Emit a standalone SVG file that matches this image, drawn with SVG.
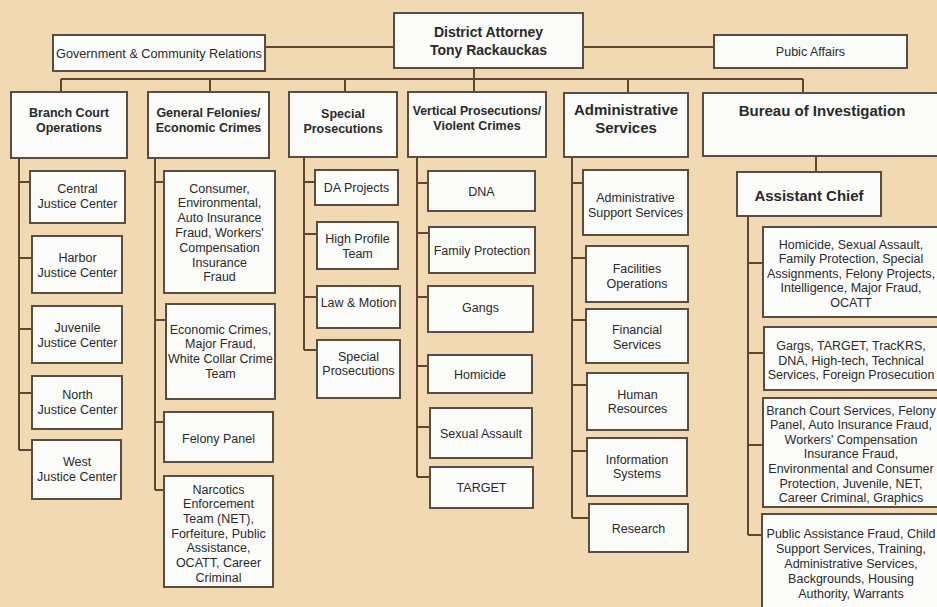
<svg xmlns="http://www.w3.org/2000/svg" width="937" height="607" viewBox="0 0 937 607">
<style>
.box{fill:#fbfbf9;stroke:#5a4c40;stroke-width:2}
.c{fill:none;stroke:#5e4630;stroke-width:2}
text{font-family:"Liberation Sans",Arial,sans-serif;fill:#2a2a2a;text-anchor:middle;font-size:12.5px}
.b{font-weight:bold}
.b15{font-weight:bold;font-size:15px}
.da{font-weight:bold;font-size:14px}
</style>
<rect width="937" height="607" fill="#f1d9b3"/>
<g id="connectors" class="c">
<path d="M265 47H394M583 47H714M474 68V92M61 79H803M61 79V92M210 79V92M345 79V92M628 79V93M803 79V93"/>
<path d="M19 158V450M19 182H30M19 258H32M19 329H32M19 393H32M19 450H32"/>
<path d="M155 158V490M155 182H164M155 320H166M155 422H164M155 490H164"/>
<path d="M304 157V350M304 182H315M304 234H317M304 297H317M304 350H317"/>
<path d="M417 157V477M417 183H428M417 233H429M417 297H428M417 366H428M417 427H430M417 477H430"/>
<path d="M572 157V518M572 183H583M572 258H586M572 320H586M572 385H587M572 451H587M572 518H589"/>
<path d="M816 156V172M748 216V535M748 263H763M748 353H764M748 445H763M748 535H762"/>
</g>
<g id="da"><rect class="box" x="394" y="13" width="189" height="55"/><text class="da" x="488.5" y="37">District Attorney</text><text class="da" x="488.5" y="55">Tony Rackauckas</text></g>
<g id="gov"><rect class="box" x="53" y="35" width="212" height="36"/><text x="159" y="57.5" style="font-size:12.7px">Government &amp; Community Relations</text></g>
<g id="pubic"><rect class="box" x="714" y="35" width="193" height="33"/><text x="810.5" y="56">Pubic Affairs</text></g>

<g id="branch"><rect class="box" x="11" y="92" width="116" height="66"/><text class="b" x="69" y="116.5">Branch Court</text><text class="b" x="69" y="131.5">Operations</text></g>
<g id="general"><rect class="box" x="148" y="92" width="121" height="66"/><text class="b" x="208.5" y="116.5">General Felonies/</text><text class="b" x="208.5" y="131.5">Economic Crimes</text></g>
<g id="special"><rect class="box" x="289" y="92" width="108" height="65"/><text class="b" x="343" y="117.5">Special</text><text class="b" x="343" y="132.5">Prosecutions</text></g>
<g id="vertical"><rect class="box" x="408" y="92" width="138" height="65"/><text class="b" x="477" y="114.5" style="font-size:12.3px">Vertical Prosecutions/</text><text class="b" x="477" y="129.5">Violent Crimes</text></g>
<g id="admin"><rect class="box" x="564" y="93" width="124" height="64"/><text class="b15" x="626" y="115">Administrative</text><text class="b15" x="626" y="133">Services</text></g>
<g id="bureau"><rect class="box" x="703" y="93" width="245" height="63"/><text class="b15" x="822" y="115.5">Bureau of Investigation</text></g>

<g id="central"><rect class="box" x="30" y="171" width="95" height="52"/><text x="77.5" y="192.5">Central</text><text x="77.5" y="207.5">Justice Center</text></g>
<g id="harbor"><rect class="box" x="32" y="236" width="90" height="57"/><text x="77.5" y="261.5">Harbor</text><text x="77.5" y="276.5">Justice Center</text></g>
<g id="juvenile"><rect class="box" x="32" y="306" width="90" height="57"/><text x="77.5" y="331.5">Juvenile</text><text x="77.5" y="346.5">Justice Center</text></g>
<g id="north"><rect class="box" x="32" y="376" width="90" height="53"/><text x="77.5" y="398.5">North</text><text x="77.5" y="413.5">Justice Center</text></g>
<g id="west"><rect class="box" x="32" y="440" width="89" height="59"/><text x="77" y="465.5">West</text><text x="77" y="480.5">Justice Center</text></g>

<g id="consumer"><rect class="box" x="164" y="171" width="111" height="122"/><text x="219.5" y="192.5">Consumer,</text><text x="219.5" y="207.3">Environmental,</text><text x="219.5" y="222.1">Auto Insurance</text><text x="219.5" y="236.9">Fraud, Workers'</text><text x="219.5" y="251.7">Compensation</text><text x="219.5" y="266.5">Insurance</text><text x="219.5" y="281.3">Fraud</text></g>
<g id="economic"><rect class="box" x="166" y="304" width="109" height="95"/><text x="220.5" y="333.5">Economic Crimes,</text><text x="220.5" y="348">Major Fraud,</text><text x="220.5" y="362.5">White Collar Crime</text><text x="220.5" y="377.5">Team</text></g>
<g id="felony"><rect class="box" x="164" y="412" width="109" height="50"/><text x="218.5" y="442.5">Felony Panel</text></g>
<g id="narcotics"><rect class="box" x="164" y="476" width="109" height="111"/><text x="218.5" y="493.5">Narcotics</text><text x="218.5" y="508.2">Enforcement</text><text x="218.5" y="522.9">Team (NET),</text><text x="218.5" y="537.6">Forfeiture, Public</text><text x="218.5" y="552.3">Assistance,</text><text x="218.5" y="567">OCATT, Career</text><text x="218.5" y="581.7">Criminal</text></g>

<g id="daprojects"><rect class="box" x="315" y="170" width="83" height="35"/><text x="356.5" y="191.5">DA Projects</text></g>
<g id="highprofile"><rect class="box" x="317" y="222" width="81" height="47"/><text x="357.5" y="242.5">High Profile</text><text x="357.5" y="257.5">Team</text></g>
<g id="lawmotion"><rect class="box" x="317" y="286" width="83" height="42"/><text x="358.5" y="306.5">Law &amp; Motion</text></g>
<g id="specialpros"><rect class="box" x="317" y="340" width="83" height="58"/><text x="358.5" y="360.5">Special</text><text x="358.5" y="374.5">Prosecutions</text></g>

<g id="dna"><rect class="box" x="428" y="171" width="107" height="40"/><text x="481.5" y="195.5">DNA</text></g>
<g id="family"><rect class="box" x="429" y="227" width="106" height="46"/><text x="482" y="254.5">Family Protection</text></g>
<g id="gangs"><rect class="box" x="428" y="286" width="105" height="46"/><text x="480.5" y="311.5">Gangs</text></g>
<g id="homicide"><rect class="box" x="428" y="355" width="104" height="38"/><text x="480" y="378.5">Homicide</text></g>
<g id="sexual"><rect class="box" x="430" y="408" width="102" height="50"/><text x="481" y="437.5">Sexual Assault</text></g>
<g id="target"><rect class="box" x="430" y="467" width="103" height="41"/><text x="481.5" y="491.5">TARGET</text></g>

<g id="adminsupport"><rect class="box" x="583" y="170" width="105" height="65"/><text x="635.5" y="201.5">Administrative</text><text x="635.5" y="216.5">Support Services</text></g>
<g id="facilities"><rect class="box" x="586" y="246" width="102" height="56"/><text x="637" y="272.5">Facilities</text><text x="637" y="287.5">Operations</text></g>
<g id="financial"><rect class="box" x="586" y="309" width="102" height="54"/><text x="637" y="333.5">Financial</text><text x="637" y="348.5">Services</text></g>
<g id="human"><rect class="box" x="587" y="373" width="101" height="57"/><text x="637.5" y="399">Human</text><text x="637.5" y="413">Resources</text></g>
<g id="information"><rect class="box" x="587" y="438" width="100" height="58"/><text x="637" y="463.5">Information</text><text x="637" y="477.5">Systems</text></g>
<g id="research"><rect class="box" x="589" y="504" width="99" height="48"/><text x="638.5" y="532.5">Research</text></g>

<g id="assistant"><rect class="box" x="737" y="172" width="144" height="44"/><text class="b15" x="809" y="201">Assistant Chief</text></g>
<g id="bi1"><rect class="box" x="763" y="227" width="185" height="90"/><text x="851" y="248.5">Homicide, Sexual Assault,</text><text x="851" y="263">Family Protection, Special</text><text x="851" y="277.5">Assignments, Felony Projects,</text><text x="851" y="292">Intelligence, Major Fraud,</text><text x="851" y="306.5">OCATT</text></g>
<g id="bi2"><rect class="box" x="764" y="327" width="184" height="63"/><text x="851" y="349.5">Gargs, TARGET, TracKRS,</text><text x="851" y="364.5">DNA, High-tech, Technical</text><text x="851" y="378.5">Services, Foreign Prosecution</text></g>
<g id="bi3"><rect class="box" x="763" y="398" width="185" height="109"/><text x="851" y="414.5">Branch Court Services, Felony</text><text x="851" y="429.1">Panel, Auto Insurance Fraud,</text><text x="851" y="443.7">Workers' Compensation</text><text x="851" y="458.3">Insurance Fraud,</text><text x="851" y="472.9">Environmental and Consumer</text><text x="851" y="487.5">Protection, Juvenile, NET,</text><text x="851" y="502.1">Career Criminal, Graphics</text></g>
<g id="bi4"><rect class="box" x="762" y="514" width="186" height="100"/><text x="851" y="537.5">Public Assistance Fraud, Child</text><text x="851" y="552.5">Support Services, Training,</text><text x="851" y="567.5">Administrative Services,</text><text x="851" y="582.5">Backgrounds, Housing</text><text x="851" y="597.5">Authority, Warrants</text></g>
</svg>
